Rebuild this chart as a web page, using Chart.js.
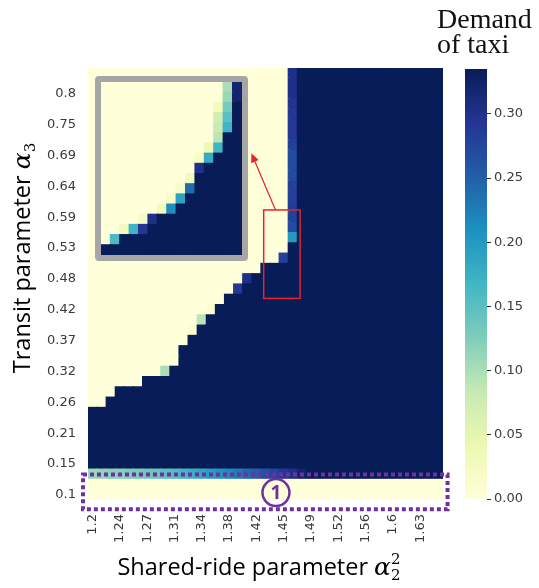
<!DOCTYPE html>
<html><head><meta charset="utf-8">
<script src="https://cdn.jsdelivr.net/npm/chart.js@4.4.1/dist/chart.umd.min.js"></script>
<style>
html,body{margin:0;padding:0;background:#fff;}
#wrap{position:relative;width:539px;height:588px;overflow:hidden;background:#fff;}
#main{position:absolute;left:0;top:0;}
#cb{position:absolute;left:440px;top:0;}
#insetBox{position:absolute;left:95px;top:76px;width:141px;height:173px;border:6.5px solid #a6a6a6;border-radius:4px;background:#ffffd9;}
#inset{display:block;}
</style></head><body>
<div id="wrap">
<canvas id="main" width="539" height="588"></canvas>
<canvas id="cb" width="99" height="588"></canvas>
<div id="insetBox"><canvas id="inset" width="141" height="173"></canvas></div>
</div>
<script>
// ---------------- DATA ----------------
const nCols = 39;               // shared-ride parameter grid points
const nRows = 42;               // transit parameter grid points
const xTickLabels = ['1.2','1.24','1.27','1.31','1.34','1.38','1.42','1.45','1.49','1.52','1.56','1.6','1.63'];
const yTickLabels = ['0.1','0.15','0.21','0.26','0.32','0.37','0.42','0.48','0.53','0.59','0.64','0.69','0.75','0.8'];
const vMax = 0.335;
const cbTicks = [0, 0.05, 0.10, 0.15, 0.20, 0.25, 0.30];
// rows 0 and 1 (bottom) : zero demand
const row0Values = [0,0,0,0,0,0,0,0,0,0,0,0,0,0,0,0,0,0,0,0,0,0,0,0,0,0,0,0,0,0,0,0,0,0,0,0,0,0,0];
const row1Values = [0,0,0,0,0,0,0,0,0,0,0,0,0,0,0,0,0,0,0,0,0,0,0,0,0,0,0,0,0,0,0,0,0,0,0,0,0,0,0];
// row 2 : the gradient stripe
const row2Values = [0.11,0.115,0.12,0.12,0.125,0.13,0.135,0.14,0.15,0.155,0.165,0.175,0.185,0.195,0.205,0.215,0.225,0.24,0.25,0.265,0.275,0.29,0.30,0.32,
  0.335,0.335,0.335,0.335,0.335,0.335,0.335,0.335,0.335,0.335,0.335,0.335,0.335,0.335,0.335];
// highest row (from bottom) with full demand in each column
const colTopDark = [8,8,9,10,10,10,11,11,11,12,14,15,16,17,18,19,19,20,21,22,22,22,24,
  41,41,41,41,41,41,41,41,41,41,41,41,41,41,41,41];
// intermediate cells on the boundary [col, row, value]
const edgeCells = [
  [8,12,0.10],[11,16,0.01],[12,17,0.09],[13,18,0.01],[16,20,0.29],[17,21,0.30],[21,23,0.28],
  [22,25,0.20],[22,26,0.27],[22,27,0.28],[22,28,0.285],[22,29,0.28],[22,30,0.28],[22,31,0.27],
  [22,32,0.27],[22,33,0.27],[22,34,0.28],[22,35,0.29],[22,36,0.29],[22,37,0.29],[22,38,0.295],
  [22,39,0.30],[22,40,0.30],[22,41,0.30]
];
// inset (finer grid): 15 columns x 17 rows, rows counted from the top
const insetCols = 15, insetRows = 17;
const insetDarkStart = [16,16,15,15,15,14,13,13,12,11,9,8,7,5,0];
const insetEdge = [
  [1,15,0.16],[2,14,0.03],[3,14,0.17],[4,14,0.29],[4,13,0.02],[5,13,0.30],[6,12,0.03],
  [7,12,0.21],[7,11,0.02],[8,11,0.19],[8,10,0.02],[9,10,0.24],[9,9,0.03],[10,8,0.30],
  [10,7,0.02],[11,7,0.18],[11,6,0.04],[12,6,0.17],[12,5,0.09],[12,4,0.08],[12,3,0.07],
  [12,2,0.03],[13,0,0.10],[13,1,0.11],[13,2,0.13],[13,3,0.15],[13,4,0.17],[14,0,0.32],[14,1,0.32]
];

// ---------------- COLOUR MAP (YlGnBu) ----------------
const ylgnbu = ['#ffffd9','#edf8b1','#c7e9b4','#7fcdbb','#41b6c4','#1d91c0','#225ea8','#253494','#081d58'];
function hexToRgb(h){return [parseInt(h.slice(1,3),16),parseInt(h.slice(3,5),16),parseInt(h.slice(5,7),16)];}
function cmap(v){
  const n = ylgnbu.length-1;
  const t = Math.max(0,Math.min(1,v/vMax))*n;
  const i = Math.min(n-1,Math.floor(t)); const f = t-i;
  const a = hexToRgb(ylgnbu[i]), b = hexToRgb(ylgnbu[i+1]);
  return 'rgb('+a.map((x,k)=>Math.round(x+(b[k]-x)*f)).join(',')+')';
}

// ---------------- MAIN MATRIX ----------------
function cellValue(c,r){
  for (const [ec,er,ev] of edgeCells) if (ec===c && er===r) return ev;
  if (r===0) return row0Values[c];
  if (r===1) return row1Values[c];
  if (r===2) return row2Values[c];
  return r <= colTopDark[c] ? vMax : 0;
}
const colIdx = Array.from({length:nCols},(_,i)=>i);
const mainDatasets = [];
for (let r=0;r<nRows;r++){
  mainDatasets.push({data: colIdx.map(()=>1), backgroundColor: colIdx.map(c=>cmap(cellValue(c,r)))});
}

// annotation geometry in grid units
const redRect = {c0:19.3,c1:23.3,r0:19.6,r1:28.2};
const arrow = {c0:20.6,r0:28.2,c1:17.95,r1:33.7};
const purpleBox = {c0:-0.55,c1:39.5,r0:-0.9,r1:2.48};
const circ = {c:20.65,r:0.72};

function drawRich(ctx, parts){
  let w=0; for(const p of parts){ctx.font=p.font; if(p.adv!==false) w+=ctx.measureText(p.text).width;}
  let x=-w/2;
  for(const p of parts){ctx.font=p.font; ctx.fillText(p.text,x,p.dy||0); if(p.adv!==false) x+=ctx.measureText(p.text).width;}
}

const annotPlugin = {
  id:'annot',
  afterDraw(chart){
    const ctx = chart.ctx, xs = chart.scales.x, ys = chart.scales.y;
    const step = xs.getPixelForValue(1)-xs.getPixelForValue(0);
    const px = u => xs.getPixelForValue(0)+(u-0.5)*step;
    const py = r => ys.getPixelForValue(r);
    ctx.save();
    // red rectangle
    ctx.strokeStyle='#e8222a'; ctx.lineWidth=1.5;
    ctx.strokeRect(px(redRect.c0),py(redRect.r1),px(redRect.c1)-px(redRect.c0),py(redRect.r0)-py(redRect.r1));
    // arrow
    const ax0=px(arrow.c0), ay0=py(arrow.r0), ax1=px(arrow.c1), ay1=py(arrow.r1);
    const ang=Math.atan2(ay1-ay0,ax1-ax0);
    ctx.lineWidth=1.2; ctx.beginPath(); ctx.moveTo(ax0,ay0); ctx.lineTo(ax1-7*Math.cos(ang),ay1-7*Math.sin(ang)); ctx.stroke();
    ctx.fillStyle='#e8222a'; ctx.beginPath();
    ctx.moveTo(ax1,ay1);
    ctx.lineTo(ax1-9*Math.cos(ang)+4*Math.sin(ang), ay1-9*Math.sin(ang)-4*Math.cos(ang));
    ctx.lineTo(ax1-9*Math.cos(ang)-4*Math.sin(ang), ay1-9*Math.sin(ang)+4*Math.cos(ang));
    ctx.closePath(); ctx.fill();
    // purple dotted box
    ctx.strokeStyle='#7030a0'; ctx.lineWidth=4; ctx.setLineDash([4,3]);
    ctx.strokeRect(px(purpleBox.c0),py(purpleBox.r1),px(purpleBox.c1)-px(purpleBox.c0),py(purpleBox.r0)-py(purpleBox.r1));
    ctx.setLineDash([]);
    // circled 1
    const cx=px(circ.c), cy=py(circ.r);
    ctx.lineWidth=2.5; ctx.beginPath(); ctx.arc(cx,cy,13.5,0,Math.PI*2); ctx.stroke();
    ctx.fillStyle='#7030a0'; ctx.font='bold 19px "Open Sans"'; ctx.textAlign='center'; ctx.textBaseline='middle';
    ctx.fillText('1',cx,cy+1);
    // axis titles
    ctx.fillStyle='#000'; ctx.textAlign='left'; ctx.textBaseline='alphabetic';
    ctx.save(); ctx.translate(259,575);
    drawRich(ctx,[
      {text:'Shared-ride parameter ',font:'23.5px "Open Sans"'},
      {text:'α',font:'italic 25px "DejaVu Serif"'},
      {text:'2',font:'15px "DejaVu Serif"',dy:-11,adv:false},
      {text:'2',font:'15px "DejaVu Serif"',dy:5}
    ]);
    ctx.restore();
    ctx.save(); ctx.translate(30,258); ctx.rotate(-Math.PI/2);
    drawRich(ctx,[
      {text:'Transit parameter ',font:'23.5px "Open Sans"'},
      {text:'α',font:'italic 25px "DejaVu Serif"'},
      {text:'3',font:'15px "DejaVu Serif"',dy:5}
    ]);
    ctx.restore();
    // colour bar title
    ctx.font='28px "Liberation Serif"'; ctx.fillStyle='#111';
    ctx.fillText('Demand',437,28); ctx.fillText('of taxi',437,53);
    ctx.restore();
  }
};

const tickFont = {family:'"DejaVu Sans"',size:13};
new Chart(document.getElementById('main'),{
  type:'bar',
  data:{labels:colIdx,datasets:mainDatasets},
  options:{
    responsive:false,animation:false,devicePixelRatio:1,
    layout:{padding:{top:68,right:96,left:0,bottom:0}},
    plugins:{legend:{display:false},tooltip:{enabled:false}},
    datasets:{bar:{barPercentage:1,categoryPercentage:1,borderWidth:0,inflateAmount:0.6}},
    scales:{
      x:{stacked:true,grid:{display:false,drawTicks:false},border:{display:false},
        ticks:{autoSkip:false,maxRotation:90,minRotation:90,padding:14,font:tickFont,color:'#3a3a3a',
          callback:(v,i)=> i%3===0 ? xTickLabels[i/3] : ''},
        afterFit:s=>{s.height=88;}},
      y:{stacked:true,min:0,max:nRows,grid:{display:false,drawTicks:false},border:{display:false},
        afterBuildTicks:s=>{s.ticks=yTickLabels.map((l,i)=>({value:0.5+3*i}));},
        ticks:{autoSkip:false,padding:12,font:tickFont,color:'#3a3a3a',callback:(v,i)=>yTickLabels[i]},
        afterFit:s=>{s.width=88;}}
    }
  },
  plugins:[annotPlugin]
});

// ---------------- COLOUR BAR ----------------
function cbGradient(c){
  const ch=c.chart; const ys=ch.scales && ch.scales.y;
  if(!ch.chartArea || !ys) return ylgnbu[ylgnbu.length-1];
  const y0=ys.getPixelForValue(0), y1=ys.getPixelForValue(vMax);
  if(!isFinite(y0)||!isFinite(y1)) return ylgnbu[ylgnbu.length-1];
  const g=ch.ctx.createLinearGradient(0,y0,0,y1);
  ylgnbu.forEach((col,i)=>g.addColorStop(i/(ylgnbu.length-1),col));
  return g;
}
new Chart(document.getElementById('cb'),{
  type:'bar',
  data:{labels:[''],datasets:[{data:[vMax],backgroundColor:cbGradient}]},
  options:{
    responsive:false,animation:false,devicePixelRatio:1,
    layout:{padding:{top:69,bottom:89,left:25,right:0}},
    plugins:{legend:{display:false},tooltip:{enabled:false}},
    datasets:{bar:{barPercentage:1,categoryPercentage:1,borderWidth:0}},
    scales:{
      x:{display:false},
      y:{position:'right',min:0,max:vMax,border:{display:false},
        grid:{drawOnChartArea:false,drawTicks:true,tickLength:4,color:'#333'},
        afterBuildTicks:s=>{s.ticks=cbTicks.map(v=>({value:v}));},
        ticks:{padding:3,font:tickFont,color:'#3a3a3a',callback:v=>v.toFixed(2)},
        afterFit:s=>{s.width=52;}}
    }
  }
});

// ---------------- INSET ----------------
function insetValue(c,t){
  for (const [ec,et,ev] of insetEdge) if (ec===c && et===t) return ev;
  return t >= insetDarkStart[c] ? vMax : 0;
}
const insetIdx = Array.from({length:insetCols},(_,i)=>i);
const insetDatasets=[];
for (let rb=0; rb<insetRows; rb++){
  const t = insetRows-1-rb;
  insetDatasets.push({data:insetIdx.map(()=>1),backgroundColor:insetIdx.map(c=>cmap(insetValue(c,t)))});
}
new Chart(document.getElementById('inset'),{
  type:'bar',
  data:{labels:insetIdx,datasets:insetDatasets},
  options:{
    responsive:false,animation:false,devicePixelRatio:1,
    layout:{padding:0},
    plugins:{legend:{display:false},tooltip:{enabled:false}},
    datasets:{bar:{barPercentage:1,categoryPercentage:1,borderWidth:0,inflateAmount:0.6}},
    scales:{x:{display:false,stacked:true},y:{display:false,stacked:true,min:0,max:insetRows}}
  }
});
</script>
</body></html>
